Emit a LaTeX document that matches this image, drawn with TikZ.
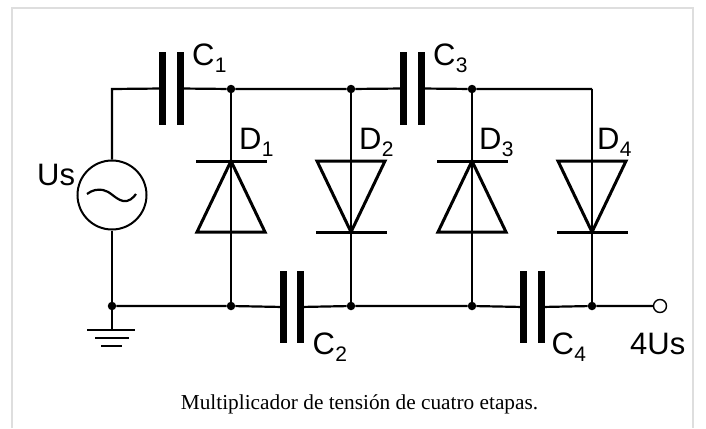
\documentclass[tikz,border=0pt]{standalone}
\usepackage{fontspec}
\setmainfont{Liberation Sans}
\newfontfamily\captionfont{Liberation Serif}
\usetikzlibrary{positioning}
\tikzset{
  wire/.style={line width=2.2pt},
  plate/.style={draw=none,fill=black,minimum width=7pt,minimum height=72pt,inner sep=0pt},
  joint/.style={circle,fill=black,inner sep=0pt,minimum size=8.5pt},
  bar/.style={line width=3pt},
  lbl/.style={inner sep=0pt,anchor=base west,font=\fontsize{31}{34}\selectfont},
  sublbl/.style={inner sep=0pt,anchor=base west,yshift=-7.5pt,font=\fontsize{21}{23}\selectfont}
}
\begin{document}
\begin{tikzpicture}[x=1pt,y=-1pt]
    \useasboundingbox (0,0) rectangle (706,428);
    % frame
    \draw [color=black!13,line width=2pt] (12,428) -- (12,8) -- (693,8) -- (693,428);

    % joints
    \node [joint] (j1) at (231,89) {};
    \node [joint] (j2) at (351,89) {};
    \node [joint] (j3) at (472,89) {};
    \coordinate (corner) at (112,89);
    \coordinate (end4) at (592,89);
    \node [joint] (g0) at (112,306) {};
    \node [joint] (g1) at (231,306) {};
    \node [joint] (g2) at (351,306) {};
    \node [joint] (g3) at (472,306) {};
    \node [joint] (g4) at (592,306) {};
    \node [circle,draw,line width=1.4pt,fill=white,inner sep=0pt,minimum size=13pt] (out) at (660,306) {};

    % capacitors
    \node [plate] (c1a) at (162.5,88.5) {};
    \node [plate] (c1b) at (180,88.5) {};
    \node [plate] (c3a) at (403.5,88.5) {};
    \node [plate] (c3b) at (421,88.5) {};
    \node [plate] (c2a) at (283,307) {};
    \node [plate] (c2b) at (300,307) {};
    \node [plate] (c4a) at (523.5,307) {};
    \node [plate] (c4b) at (541.5,307) {};

    % source
    \node [circle,draw,line width=2pt,inner sep=0pt,minimum size=69pt] (us) at (112,195) {};
    \draw [wire] (87,194) .. controls (92,190) and (98,189) .. (103,190)
        .. controls (110,191) and (115,199) .. (123,201)
        .. controls (129,202) and (133,198) .. (136,194);

    % wires top
    \draw [wire] (us.north) -- (corner) -- (c1a.center);
    \draw [wire] (c1b.center) -- (j1) -- (j2) -- (c3a.center);
    \draw [wire] (c3b.center) -- (j3) -- (end4);
    % wires bottom
    \draw [wire] (us.south) -- (g0);
    \draw [wire] (g0) -- (g1) -- (c2a.center);
    \draw [wire] (c2b.center) -- (g2) -- (g3) -- (c4a.center);
    \draw [wire] (c4b.center) -- (g4) -- (out);

    % diodes
    \draw [wire] (j1) -- (g1);
    \draw [wire] (j2) -- (g2);
    \draw [wire] (j3) -- (g3);
    \draw [wire] (end4) -- (g4);
    \foreach \xd in {231,472} {
      \draw [bar] (\xd-35,161) -- (\xd+36,161);
      \draw [bar,line join=miter] (\xd,161) -- (\xd-34,232) -- (\xd+34,232) -- cycle;
    }
    \foreach \xd in {351,592} {
      \draw [bar] (\xd-35,232) -- (\xd+36,232);
      \draw [bar,line join=miter] (\xd,232) -- (\xd-34,161) -- (\xd+34,161) -- cycle;
    }

    % ground
    \coordinate (gnd) at (112,330);
    \draw [wire] (g0) -- (gnd);
    \draw [wire] (87,330) -- (135,330);
    \draw [wire] (95,338) -- (129,338);
    \draw [wire] (101,346) -- (122,346);

    % labels
    \node [lbl] (lc1) at (192,65) {C};
    \node [sublbl] (sc1) at (lc1.base east) {1};
    \node [lbl] (lc3) at (433,65) {C};
    \node [sublbl] (sc3) at (lc3.base east) {3};
    \node [lbl] (lc2) at (312.5,354) {C};
    \node [sublbl] (sc2) at (lc2.base east) {2};
    \node [lbl] (lc4) at (551.5,354) {C};
    \node [sublbl] (sc4) at (lc4.base east) {4};
    \node [lbl] (ld1) at (239,149) {D};
    \node [sublbl] (sd1) at (ld1.base east) {1};
    \node [lbl] (ld2) at (359,149) {D};
    \node [sublbl] (sd2) at (ld2.base east) {2};
    \node [lbl] (ld3) at (479,149) {D};
    \node [sublbl] (sd3) at (ld3.base east) {3};
    \node [lbl] (ld4) at (597,149) {D};
    \node [sublbl] (sd4) at (ld4.base east) {4};
    \node [lbl] (lus) at (37,185) {Us};
    \node [lbl] (lout) at (630,354) {4Us};

    \node [inner sep=0pt,anchor=base,font=\captionfont\fontsize{21.3}{24}\selectfont] (cap) at (359.5,409) {Multiplicador de tensión de cuatro etapas.};
\end{tikzpicture}
\end{document}
